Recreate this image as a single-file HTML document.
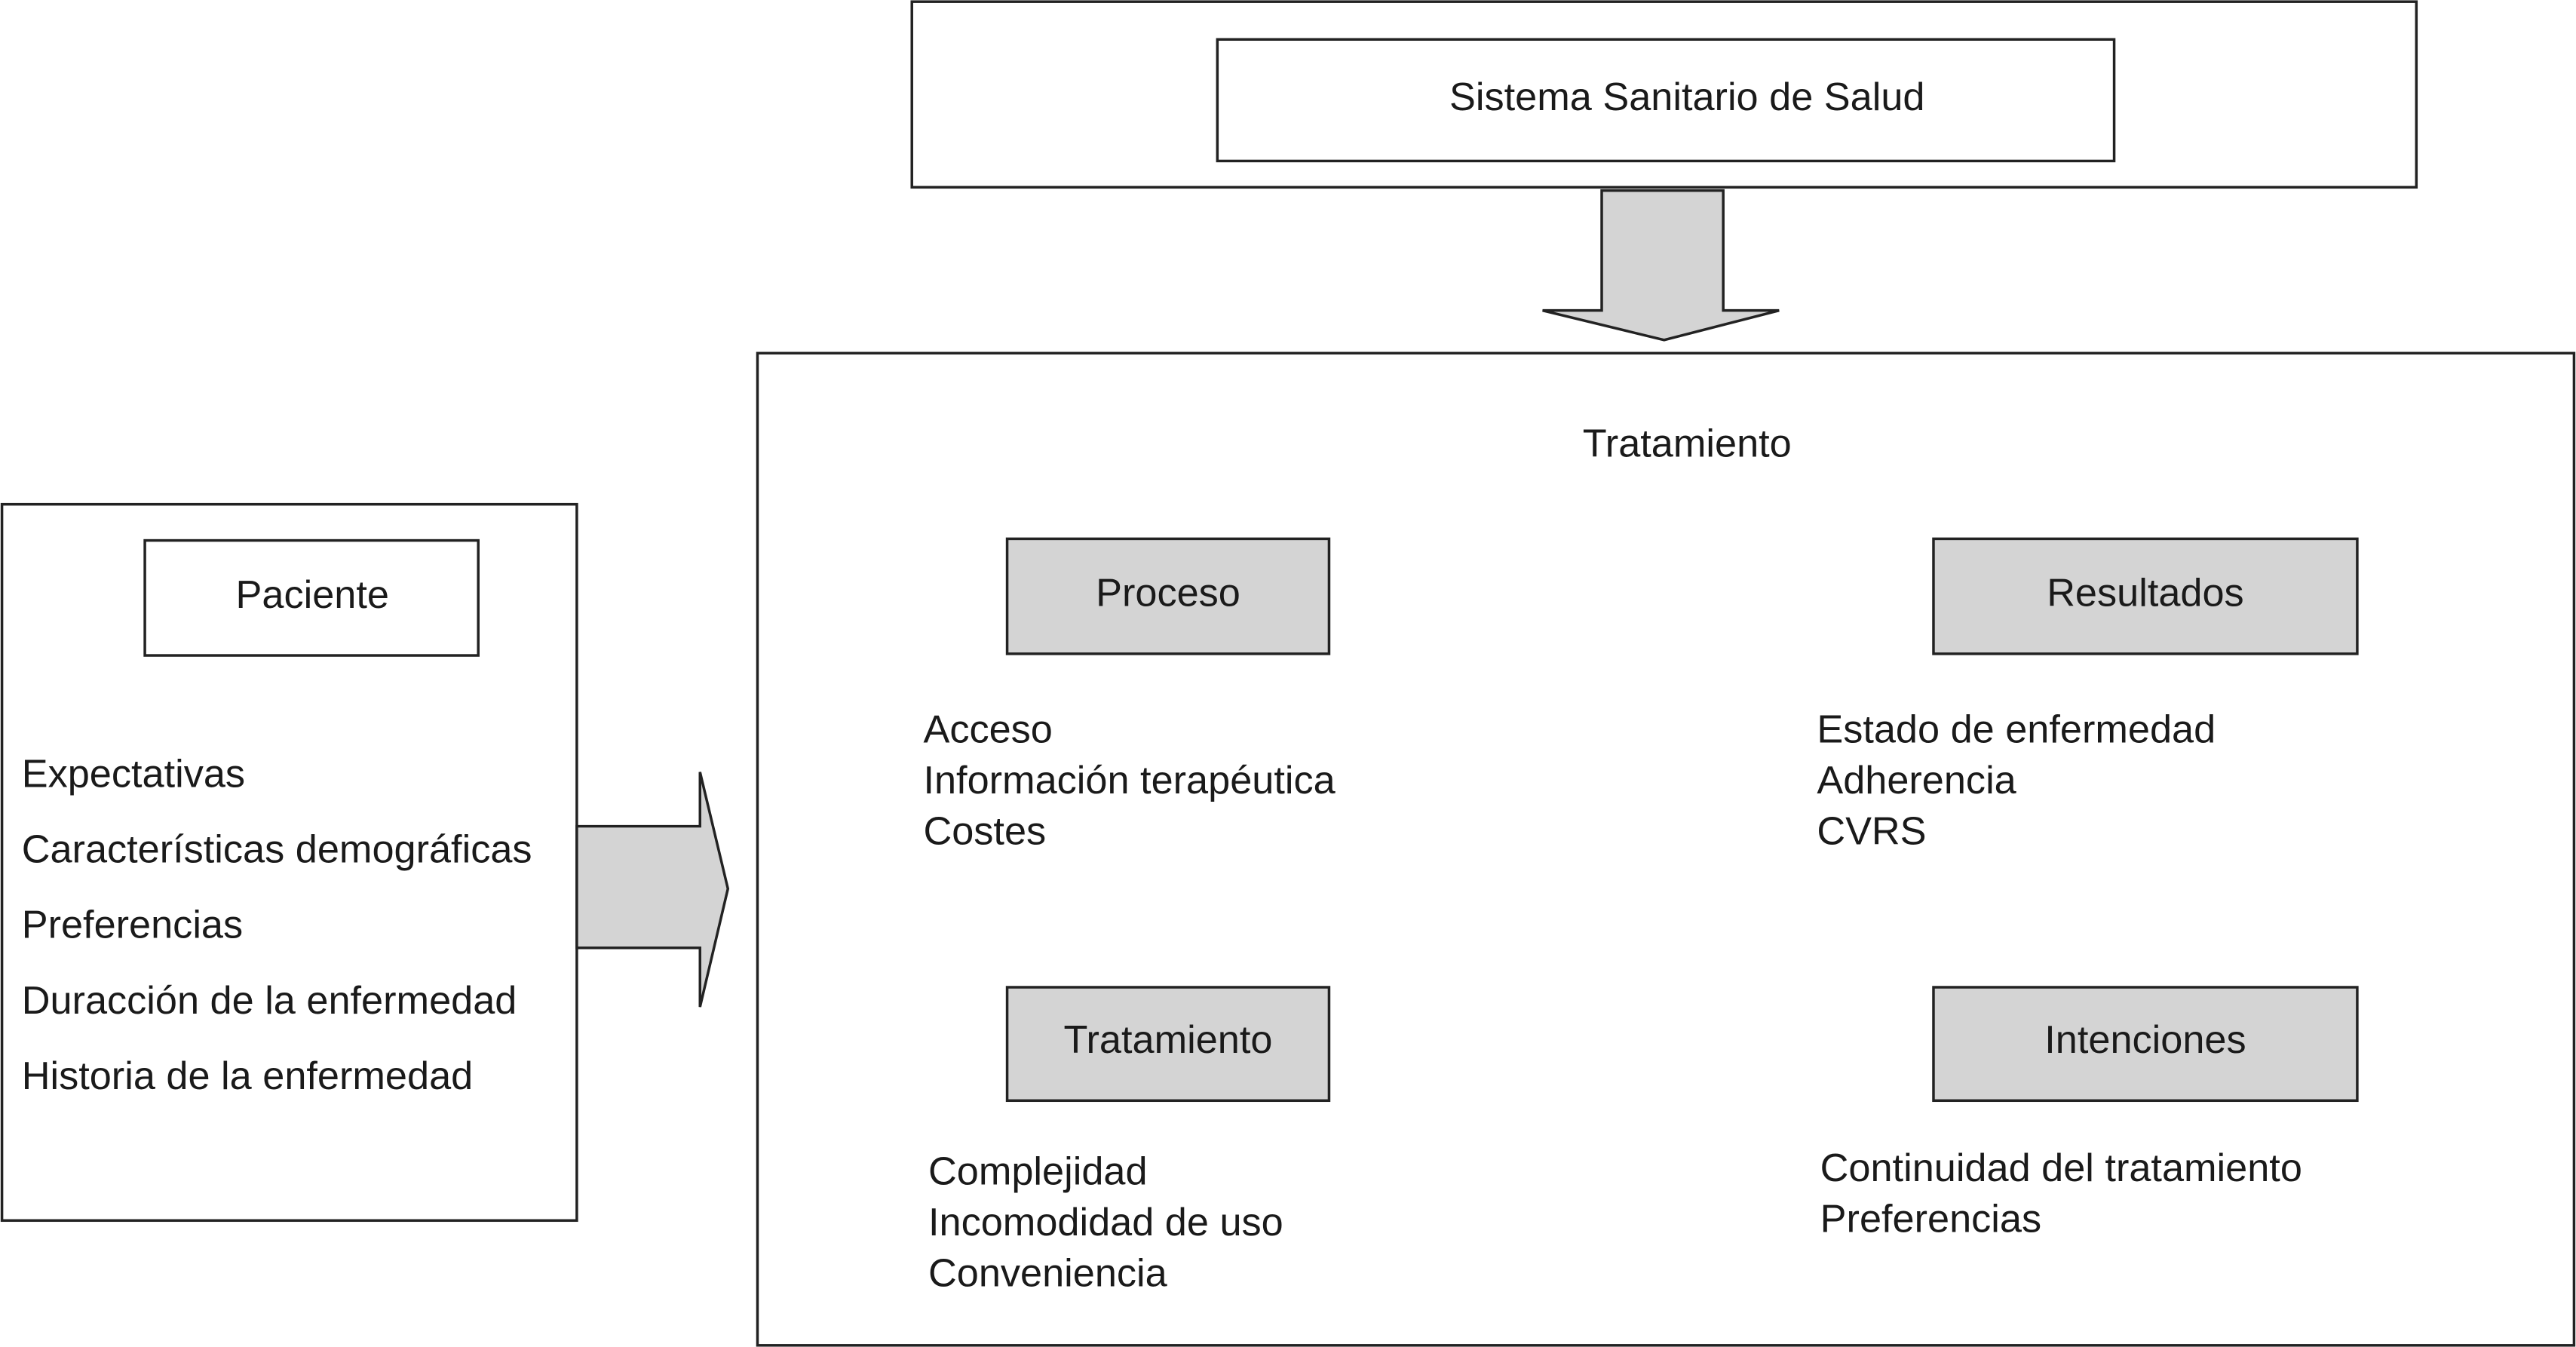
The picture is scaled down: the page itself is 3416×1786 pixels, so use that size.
<!DOCTYPE html>
<html><head><meta charset="utf-8"><style>html,body{margin:0;padding:0;background:#fff}svg{display:block}</style></head>
<body>
<svg width="3416" height="1786" viewBox="0 0 1568 820" xmlns="http://www.w3.org/2000/svg" font-family="Liberation Sans, Arial, sans-serif" font-size="24" fill="#1a1a1a">
<g stroke="#222" stroke-width="1.6" fill="#fff">
<rect x="555" y="1" width="916" height="113"/>
<rect x="741" y="24" width="546" height="74"/>
<polygon points="975,116 1049,116 1049,189 1083,189 1013,207 939,189 975,189" fill="#d4d4d4"/>
<rect x="461" y="215" width="1106" height="604"/>
<rect x="613" y="328" width="196" height="70" fill="#d4d4d4"/>
<rect x="1177" y="328" width="258" height="70" fill="#d4d4d4"/>
<rect x="613" y="601" width="196" height="69" fill="#d4d4d4"/>
<rect x="1177" y="601" width="258" height="69" fill="#d4d4d4"/>
<rect x="1" y="307" width="350" height="436"/>
<rect x="88" y="329" width="203" height="70"/>
<polygon points="351,503 426,503 426,470 443,541 426,613 426,577 351,577" fill="#d4d4d4"/>
</g>
<g stroke="none">
<text x="1027" y="67" text-anchor="middle">Sistema Sanitario de Salud</text>
<text x="1027" y="278" text-anchor="middle">Tratamiento</text>
<text x="711" y="369" text-anchor="middle">Proceso</text>
<text x="1306" y="369" text-anchor="middle">Resultados</text>
<text x="711" y="641" text-anchor="middle">Tratamiento</text>
<text x="1306" y="641" text-anchor="middle">Intenciones</text>
<text x="190" y="370" text-anchor="middle">Paciente</text>
<text x="562" y="452">Acceso</text>
<text x="562" y="483">Información terapéutica</text>
<text x="562" y="514">Costes</text>
<text x="1106" y="452">Estado de enfermedad</text>
<text x="1106" y="483">Adherencia</text>
<text x="1106" y="514">CVRS</text>
<text x="565" y="721">Complejidad</text>
<text x="565" y="752">Incomodidad de uso</text>
<text x="565" y="783">Conveniencia</text>
<text x="1108" y="719">Continuidad del tratamiento</text>
<text x="1108" y="750">Preferencias</text>
<text x="13" y="479">Expectativas</text>
<text x="13" y="525">Características demográficas</text>
<text x="13" y="571">Preferencias</text>
<text x="13" y="617">Duracción de la enfermedad</text>
<text x="13" y="663">Historia de la enfermedad</text>
</g>
</svg>
</body></html>
